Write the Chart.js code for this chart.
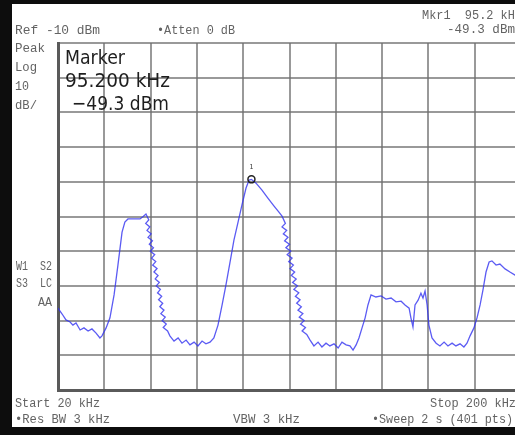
<!DOCTYPE html>
<html>
<head>
<meta charset="utf-8">
<script src="https://cdn.jsdelivr.net/npm/chart.js@4/dist/chart.umd.min.js"></script>
<style>
  html, body { margin: 0; padding: 0; background: #0d0d0d; overflow: hidden; width: 515px; height: 435px; }
  #screen { position: absolute; left: 12px; top: 4px; background: #fff; }
</style>
</head>
<body>
<canvas id="screen" width="520" height="423"></canvas>
<script>
// sweep settings
const startKHz = 20;
const stopKHz = 200;
const refDbm = -10;
const dbPerDiv = 10;

// trace 1, frequency in kHz
const freqKHz = [
  20, 21.6, 23.1, 24.7, 25.8, 27.0, 28.6, 30.1, 31.7, 33.2, 34.8, 36.3, 37.1, 38.7, 40.2, 41.8,
  43.3, 44.9, 46.0, 47.2, 49.5, 51.9, 53.0, 54.2,
  // first falling edge, sweeps scatter across it
  55.3, 54.1, 55.7, 54.6, 56.2, 55.0, 56.7, 55.5, 57.1, 55.9, 57.6, 56.4, 58.0, 56.8, 58.5, 57.3,
  58.9, 57.8, 59.4, 58.2, 59.8, 58.7, 60.3, 59.1, 60.7, 59.6, 61.2, 60.0, 61.7, 60.5, 62.1, 60.9, 62.6,
  63.5, 65.1, 66.7, 68.2, 69.8, 71.3, 72.9, 74.4, 76.0, 77.5, 79.1, 80.6,
  82.2, 83.8, 85.3, 86.9, 88.4, 90.0, 91.5, 93.1, 94.3, 95.2, 97.0, 99.3, 101.6, 104.0, 105.5, 107.1,
  // second falling edge
  108.4, 107.1, 108.9, 107.6, 109.4, 108.1, 110.0, 108.6, 110.5, 109.1, 111.0, 109.7, 111.5, 110.2, 112.0, 110.7,
  112.6, 111.2, 113.1, 111.7, 113.6, 112.3, 114.1, 112.8, 114.6, 113.3, 115.2, 113.8, 115.7, 114.3, 116.2, 114.9, 116.7,
  118.0, 119.5, 121.1,
  122.6, 124.2, 125.7, 127.3, 128.9, 130.4, 132.0, 133.5, 134.7, 135.9, 137.0, 138.2, 139.4, 140.5, 141.7, 143.6,
  145.6, 147.5, 149.5, 151.4, 153.4, 154.9, 156.5, 157.2, 158.0, 158.8, 160.0, 161.1, 161.9, 162.7, 163.5, 164.2,
  165.4, 167.0, 168.5, 170.1, 171.6, 173.2, 174.7, 176.3, 177.8, 179.0, 180.2, 181.7, 182.9, 184.1, 185.2, 186.4,
  187.6, 188.7, 190.3, 191.8, 193.8, 195.7, 197.7, 200
];

// trace 1, level in dBm
const levelDbm = [
  -86.4, -88.1, -89.8, -90.4, -91.3, -90.7, -92.7, -92.1, -93.0, -92.4, -93.6, -95.0, -94.4, -92.1, -89.2, -82.6,
  -74.0, -64.5, -61.6, -60.7, -60.7, -60.7, -60.1, -59.3,
  -61, -62, -63, -64, -65, -66, -67, -68, -69, -70, -71, -72, -73, -74, -75, -76,
  -77, -78, -79, -80, -81, -82, -83, -84, -85, -86, -87, -88, -89, -90, -91, -92, -93,
  -94.4, -95.9, -95.0, -96.5, -95.6, -97.0, -96.2, -97.3, -95.9, -96.7, -96.2, -95.0,
  -91.3, -85.5, -79.7, -73.1, -66.8, -61.6, -56.7, -51.8, -49.5, -49.3, -50.4, -52.4, -54.7, -57.0, -58.4, -59.9,
  -62, -63, -64, -65, -66, -67, -68, -69, -70, -71, -72, -73, -74, -75, -76, -77,
  -78, -79, -80, -81, -82, -83, -84, -85, -86, -87, -88, -89, -90, -91, -92, -93, -94,
  -95.6, -97.3, -96.2,
  -97.6, -96.5, -97.3, -96.7, -97.9, -96.2, -97.0, -97.3, -98.5, -97.0, -95.0, -92.1, -89.2, -85.5, -82.6, -83.2,
  -82.9, -83.8, -83.5, -84.6, -84.4, -85.5, -86.4, -89.2, -91.8, -85.5, -84.1, -82.1, -83.5, -81.5, -85.5, -91.3,
  -95.0, -96.5, -97.3, -96.2, -97.3, -96.5, -97.3, -96.7, -97.6, -96.5, -94.4, -92.1, -89.2, -85.5, -81.2, -76.0,
  -73.1, -72.8, -74.0, -73.7, -75.1, -76.0, -76.9, -77.7
];

// marker 1
const markerKHz = 95.2;
const markerDbm = -49.3;

const trace = freqKHz.map((f, i) => ({ x: f, y: levelDbm[i] }));

const SMALL = '12px "Liberation Mono", "DejaVu Sans Mono", monospace';
const BIG = '20px "DejaVu Sans", sans-serif';
const GREY = '#636363';

// screen annotations: text, left x, baseline y, font, colour, fitted width
const annotations = [
  ['Ref -10 dBm', 3, 30, SMALL, GREY, 85],
  ['\u2022Atten 0 dB', 145, 30, SMALL, GREY, 78],
  ['Mkr1  95.2 kHz', 410, 15, SMALL, GREY, 100],
  ['-49.3 dBm', 435, 29, SMALL, GREY, 68],
  ['Peak', 3, 48, SMALL, GREY, 30],
  ['Log', 3, 67, SMALL, GREY, 22],
  ['10', 3, 86, SMALL, GREY, 14],
  ['dB/', 3, 105, SMALL, GREY, 22],
  ['W1  S2', 4, 266, SMALL, GREY, 36],
  ['S3  LC', 4, 283, SMALL, GREY, 36],
  ['AA', 26, 302, SMALL, GREY, 14],
  ['Start 20 kHz', 3, 403, SMALL, GREY, 85],
  ['\u2022Res BW 3 kHz', 3, 419, SMALL, GREY, 95],
  ['VBW 3 kHz', 221, 419, SMALL, GREY, 67],
  ['Stop 200 kHz', 418, 403, SMALL, GREY, 86],
  ['\u2022Sweep 2 s (401 pts)', 360, 419, SMALL, GREY, 141],
  ['Marker', 53, 60, BIG, '#1e1e1e', 60],
  ['95.200 kHz', 53, 83, BIG, '#1e1e1e', 105],
  ['\u221249.3 dBm', 60, 106, BIG, '#1e1e1e', 97]
];

function fitText(ctx, text, x, y, font, color, width) {
  ctx.save();
  ctx.font = font;
  ctx.fillStyle = color;
  ctx.textBaseline = 'alphabetic';
  const w = ctx.measureText(text).width;
  ctx.translate(x, y);
  if (width) ctx.scale(width / w, 1);
  ctx.fillText(text, 0, 0);
  ctx.restore();
}

const screenText = {
  id: 'screenText',
  afterDraw(chart) {
    const ctx = chart.ctx;
    annotations.forEach(a => fitText(ctx, ...a));
    // marker number above the marker symbol
    const mx = chart.scales.x.getPixelForValue(markerKHz);
    const my = chart.scales.y.getPixelForValue(markerDbm);
    ctx.save();
    ctx.font = '7px "DejaVu Sans Mono", monospace';
    ctx.fillStyle = '#444';
    ctx.textAlign = 'center';
    ctx.fillText('1', mx, my - 10);
    ctx.restore();
  }
};

const ctx = document.getElementById('screen').getContext('2d');
const chart = new Chart(ctx, {
  type: 'line',
  data: {
    datasets: [
      {
        label: 'Trace 1',
        data: trace,
        borderColor: 'rgba(50, 50, 240, 0.8)',
        borderWidth: 1.3,
        pointRadius: 0,
        tension: 0,
        order: 2
      },
      {
        label: 'Mkr1',
        data: [{ x: markerKHz, y: markerDbm }],
        showLine: false,
        pointRadius: 3.5,
        pointBorderWidth: 1.5,
        pointBorderColor: '#222',
        pointBackgroundColor: 'rgba(255,255,255,0)',
        order: 1
      }
    ]
  },
  options: {
    responsive: false,
    animation: false,
    layout: { padding: { left: 46, top: 39, right: 11, bottom: 37 } },
    plugins: { legend: { display: false }, tooltip: { enabled: false } },
    scales: {
      x: {
        type: 'linear',
        min: startKHz,
        max: stopKHz,
        ticks: { display: false, stepSize: (stopKHz - startKHz) / 10 },
        grid: { color: 'rgba(110,110,110,0.7)', lineWidth: 2, drawTicks: false },
        border: { display: true, color: '#5a5a5a', width: 3 }
      },
      y: {
        type: 'linear',
        min: refDbm - 10 * dbPerDiv,
        max: refDbm,
        ticks: { display: false, stepSize: dbPerDiv },
        grid: { color: 'rgba(110,110,110,0.7)', lineWidth: 2, drawTicks: false },
        border: { display: true, color: '#5a5a5a', width: 3 }
      }
    }
  },
  plugins: [screenText]
});
</script>
</body>
</html>
